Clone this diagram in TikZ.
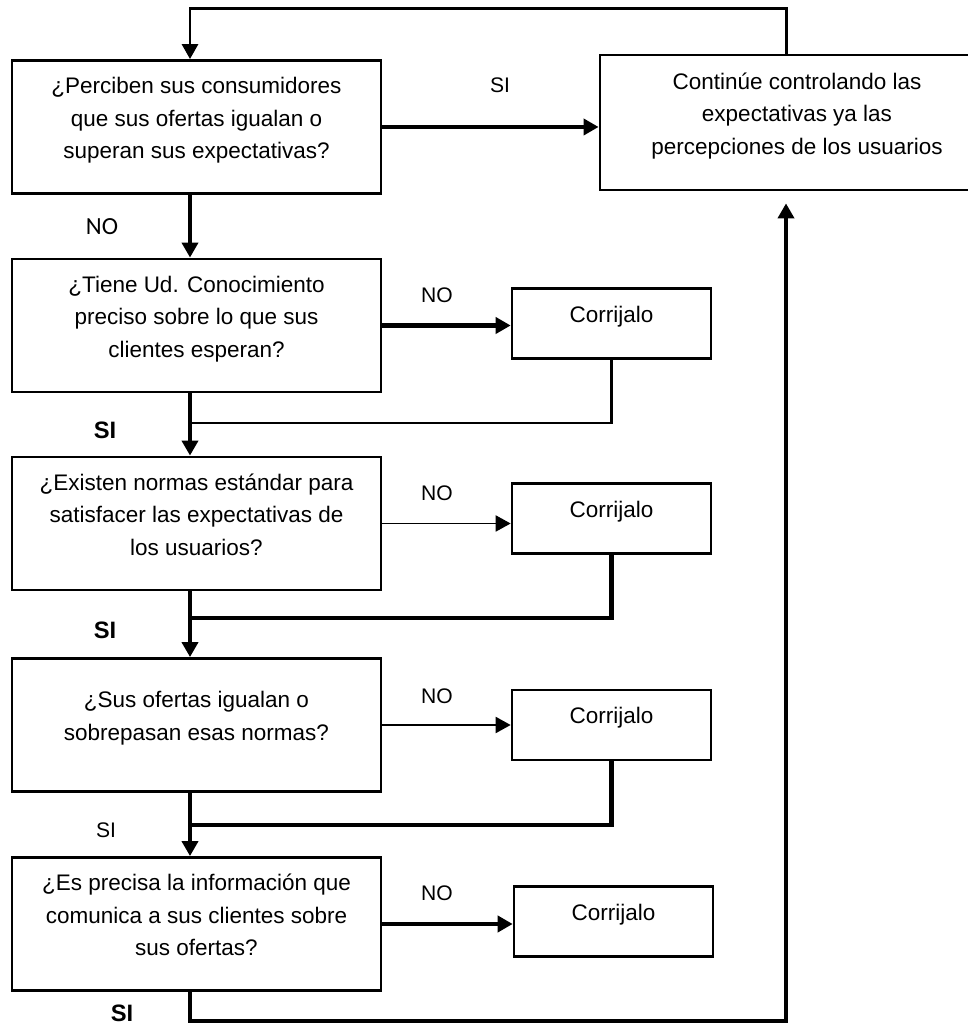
\documentclass[tikz,border=0pt]{standalone}
\usepackage{fontspec}
\setmainfont{Liberation Sans}
\newfontfamily\calibrifont{Carlito}
\usetikzlibrary{arrows.meta}
\colorlet{ink}{black}
\tikzset{
  arrow/.style={-{Triangle[length=3mm,width=3.2mm]}, draw=ink, line width=2.4pt},
  thinarrow/.style={arrow, line width=1.1pt},
  line/.style={draw=ink, line width=2.4pt},
  question/.style={
    rectangle,
    draw=ink,
    line width=1.6pt,
    minimum width=7.38cm,
    minimum height=2.66cm,
    text depth=0.36cm,
    align=center,
    font=\fontsize{12.8}{18.5}\selectfont
  },
  fixbox/.style={
    rectangle,
    draw=ink,
    line width=1.5pt,
    minimum width=3.98cm,
    minimum height=1.4cm,
    text depth=0.37cm,
    align=center,
    font=\fontsize{12.8}{18.5}\selectfont
  },
  answer/.style={inner sep=0pt, font=\fontsize{12}{14}\selectfont},
  boldanswer/.style={inner sep=0pt, font=\fontsize{13.5}{15}\selectfont\bfseries}
}

\begin{document}
\begin{tikzpicture}[x=1cm,y=1cm]
  \useasboundingbox (0,0) rectangle (19.34,20.5);

  \node[question] (q1) at (3.93,17.96) {¿Perciben sus consumidores\\que sus ofertas igualan o\\superan sus expectativas?};
  \node[question] (q2) at (3.93,13.99) {¿Tiene Ud. Conocimiento\\preciso sobre lo que sus\\clientes esperan?};
  \node[question] (q3) at (3.93,10.03) {¿Existen normas estándar para\\satisfacer las expectativas de\\los usuarios?};
  \node[question] (q4) at (3.93,6.0) {¿Sus ofertas igualan o\\sobrepasan esas normas?};
  \node[question] (q5) at (3.93,2.02) {¿Es precisa la información que\\comunica a sus clientes sobre\\sus ofertas?};
  \node[question, minimum width=7.88cm, minimum height=2.7cm] (cont) at (15.94,18.05) {Continúe controlando las\\expectativas ya las\\percepciones de los usuarios};

  \node[fixbox] (fix2) at (12.23,14.03) {Corrijalo};
  \node[fixbox] (fix3) at (12.23,10.13) {Corrijalo};
  \node[fixbox] (fix4) at (12.23,6.0) {Corrijalo};
  \node[fixbox] (fix5) at (12.27,2.07) {Corrijalo};

  \coordinate (spine) at (3.8,20.32);
  \coordinate (riser) at (15.72,0.08);
  \coordinate (m2) at (3.8,12.04);
  \coordinate (m3) at (3.8,8.14);
  \coordinate (m4) at (3.8,4.0);

  \draw[arrow, line width=1.7pt] (cont.north -| riser) |- (spine) -- (q1.north -| spine);
  \draw[arrow] (q1.east) -- (q1.east -| cont.west);
  \draw[arrow] (q1.south -| spine) -- (q2.north -| spine);
  \draw[arrow] (q2.south -| spine) -- (q3.north -| spine);
  \draw[arrow] (q3.south -| spine) -- (q4.north -| spine);
  \draw[arrow] (q4.south -| spine) -- (q5.north -| spine);
  \draw[arrow, shorten >=0.24cm] (q5.south -| spine) |- (riser) -- (cont.south -| riser);

  \draw[arrow] (q2.east) -- (q2.east -| fix2.west);
  \draw[thinarrow] (q3.east) -- (q3.east -| fix3.west);
  \draw[thinarrow] (q4.east) -- (q4.east -| fix4.west);
  \draw[arrow] (q5.east) -- (q5.east -| fix5.west);

  \draw[line, line width=1.4pt] (fix2.south) |- (m2);
  \draw[line] (fix3.south) |- (m3);
  \draw[line] (fix4.south) |- (m4);

  \node[answer] (si1) at (10.0,18.8) {SI};
  \node[inner sep=0pt, font=\calibrifont\fontsize{14}{16}\selectfont] (no1) at (2.04,15.96) {NO};
  \node[answer] (no2) at (8.74,14.6) {NO};
  \node[answer] (no3) at (8.74,10.64) {NO};
  \node[answer] (no4) at (8.74,6.58) {NO};
  \node[answer] (no5) at (8.74,2.64) {NO};
  \node[boldanswer] (si2) at (2.1,11.9) {SI};
  \node[boldanswer] (si3) at (2.1,7.9) {SI};
  \node[answer] (si4) at (2.12,3.9) {SI};
  \node[boldanswer] (si5) at (2.44,0.24) {SI};
\end{tikzpicture}
\end{document}
